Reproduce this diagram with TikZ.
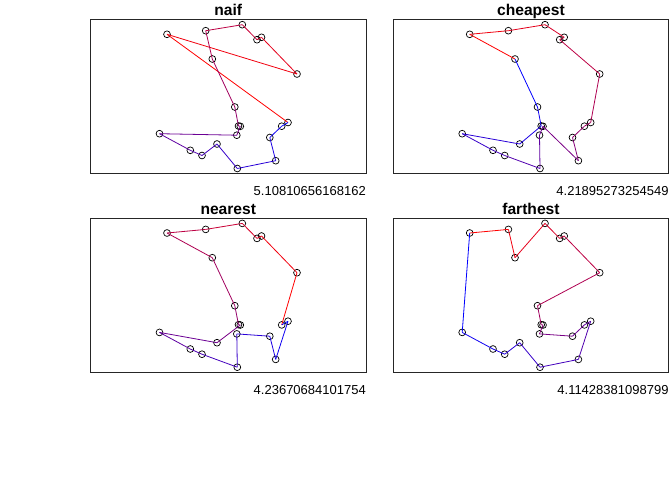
\documentclass[tikz,border=0pt]{standalone}
\usepackage{fontspec}
\setmainfont{Liberation Sans}
\tikzset{
  pt/.style={circle,draw=black,line width=0.7pt,inner sep=0pt,minimum size=6.8pt},
  frame/.style={draw=black!85,line width=0.85pt},
  ttl/.style={font=\bfseries\fontsize{15.6}{18}\selectfont,anchor=base,inner sep=0pt},
  val/.style={font=\fontsize{13}{15}\selectfont,anchor=base east,inner sep=0pt},
  seg/.style={line width=0.8pt}
}
\newcommand\tsppanel[6]{%
  \begin{scope}[shift={(#2,#3)}]
    \draw[frame] (90.5,19.3) rectangle (366,173.5);
    \node[ttl] (#1title) at (228.25,15.7) {#4};
    \node[val] (#1value) at (366,195.7) {#5};
    \foreach \n/\px/\py in {A/167/34.3,B/205.7/30.7,C/242.3/24.7,D/257/39.7,E/261.5/37.3,
      F/297/74,G/212.3/59,H/234.8/107,I1/238.5/126,I2/240.3/126.3,J/236.8/135.2,
      K/159.5/133.7,L/190.3/150.3,M/202/155.5,N/217/144,O/237.3/168.5,
      P/275.7/160.7,Q/269.8/137.5,R/281.7/126.2,S/288/122.5}
      {\node[pt] (#1\n) at (\px,\py) {};}
    \foreach \a/\b [count=\k from 0] in {#6}{%
      \pgfmathsetmacro\pc{\k*100/19}%
      \draw[seg,blue!\pc!red] (#1\a.center) -- (#1\b.center);}
  \end{scope}}
\begin{document}
\begin{tikzpicture}[x=1pt,y=-1pt]
\useasboundingbox (0,0) rectangle (672,480);
\tsppanel{na}{0}{0}{naif}{5.10810656168162}
  {S/A,A/F,F/E,E/D,D/C,C/B,B/G,G/H,H/I1,I1/I2,I2/J,J/K,K/L,L/M,M/N,N/O,O/P,P/Q,Q/R,R/S}
\tsppanel{ch}{302.7}{0}{cheapest}{4.21895273254549}
  {G/A,A/B,B/C,C/E,E/D,D/F,F/S,S/R,R/Q,Q/P,P/I2,I2/J,J/O,O/M,M/L,L/K,K/N,N/I1,I1/H,H/G}
\tsppanel{ne}{0}{198.7}{nearest}{4.23670684101754}
  {R/F,F/E,E/D,D/C,C/B,B/A,A/G,G/H,H/I1,I1/I2,I2/N,N/K,K/L,L/M,M/O,O/J,J/Q,Q/P,P/S,S/R}
\tsppanel{fa}{302.7}{198.7}{farthest}{4.11428381098799}
  {A/B,B/G,G/C,C/D,D/E,E/F,F/H,H/I1,I1/I2,I2/J,J/Q,Q/R,R/S,S/P,P/O,O/N,N/M,M/L,L/K,K/A}
\end{tikzpicture}
\end{document}
